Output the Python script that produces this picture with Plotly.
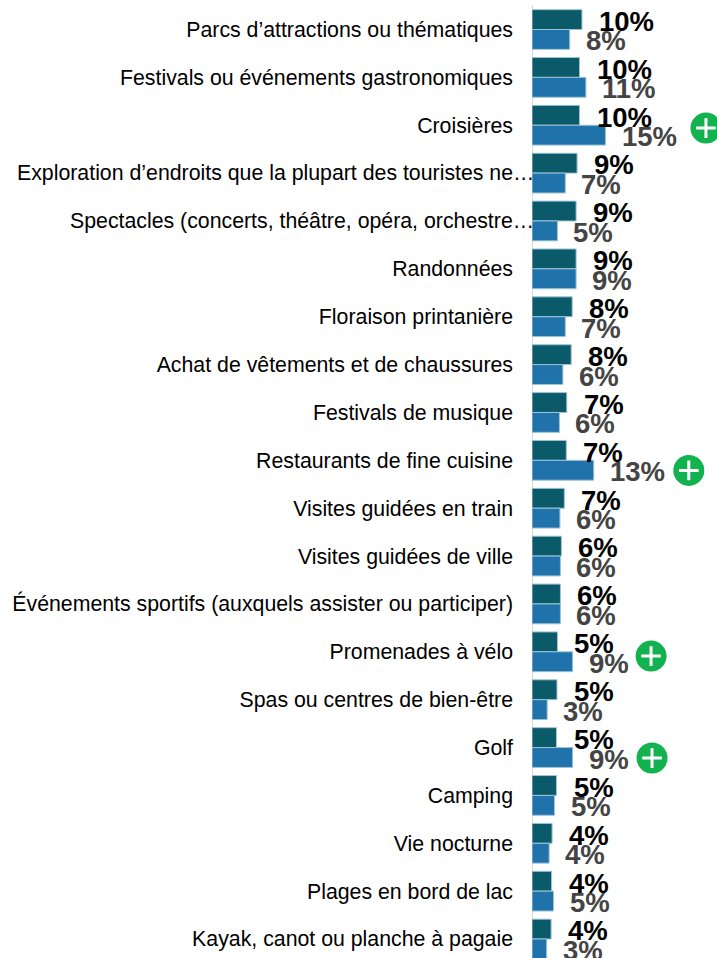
import plotly.graph_objects as go

categories = [
    "Parcs d’attractions ou thématiques",
    "Festivals ou événements gastronomiques",
    "Croisières",
    "Exploration d’endroits que la plupart des touristes ne…",
    "Spectacles (concerts, théâtre, opéra, orchestre…",
    "Randonnées",
    "Floraison printanière",
    "Achat de vêtements et de chaussures",
    "Festivals de musique",
    "Restaurants de fine cuisine",
    "Visites guidées en train",
    "Visites guidées de ville",
    "Événements sportifs (auxquels assister ou participer)",
    "Promenades à vélo",
    "Spas ou centres de bien-être",
    "Golf",
    "Camping",
    "Vie nocturne",
    "Plages en bord de lac",
    "Kayak, canot ou planche à pagaie",
]
series_a = [10.2, 9.7, 9.7, 9.2, 9.0, 9.0, 8.2, 8.0, 7.1, 7.0,
            6.6, 6.0, 5.8, 5.2, 5.1, 5.0, 5.0, 4.1, 4.0, 3.9]
series_b = [7.7, 11.0, 15.0, 6.8, 5.2, 9.0, 6.8, 6.3, 5.6, 12.6,
            5.7, 5.8, 5.8, 8.3, 3.1, 8.3, 4.6, 3.5, 4.4, 3.0]
labels_a = ["10%", "10%", "10%", "9%", "9%", "9%", "8%", "8%", "7%", "7%",
            "7%", "6%", "6%", "5%", "5%", "5%", "5%", "4%", "4%", "4%"]
labels_b = ["8%", "11%", "15%", "7%", "5%", "9%", "7%", "6%", "6%", "13%",
            "6%", "6%", "6%", "9%", "3%", "9%", "5%", "4%", "5%", "3%"]
plus_categories = ["Croisières", "Restaurants de fine cuisine", "Promenades à vélo", "Golf"]
plus_x = [35.5, 32.0, 24.3, 24.5]
plus_offset = [0.06, 0.21, 0.09, 0.22]

PX_PER_UNIT = 4.9
WIDTH, HEIGHT = 717, 958
AXIS_PX = 532
SPACING = 47.87
FIRST_CENTER = 29.5
idx = list(range(len(categories)))
truncated = [c for c in categories if c.endswith("…")]
FONT = "Liberation Sans, Arial"

fig = go.Figure()
border = "#9fc3d6"
fig.add_trace(go.Bar(y=idx, x=series_a, orientation="h", offsetgroup="a", name="a",
                     marker=dict(color="#0b5a69", line=dict(color=border, width=1)),
                     hoverinfo="skip"))
fig.add_trace(go.Bar(y=idx, x=series_b, orientation="h", offsetgroup="b", name="b",
                     marker=dict(color="#2072ab", line=dict(color=border, width=1)),
                     hoverinfo="skip"))

plus_y = [categories.index(c) + o for c, o in zip(plus_categories, plus_offset)]
fig.add_trace(go.Scatter(x=plus_x, y=plus_y, mode="markers", cliponaxis=False,
                         marker=dict(symbol="circle", size=31, color="#12b24f"),
                         hoverinfo="skip"))
fig.add_trace(go.Scatter(x=plus_x, y=plus_y, mode="markers", cliponaxis=False,
                         marker=dict(symbol="cross-thin", size=14, color="white",
                                     line=dict(color="white", width=3)),
                         hoverinfo="skip"))

annotations = []
for c in truncated:
    annotations.append(dict(x=0, y=categories.index(c), text=c, xref="x", yref="y",
                            xanchor="right", yanchor="middle", xshift=3.5, showarrow=False,
                            font=dict(family=FONT, size=21.3, color="#000000")))
for i in idx:
    annotations.append(dict(x=series_a[i], y=i - 0.17, text=labels_a[i], xref="x", yref="y",
                            xanchor="left", yanchor="middle", xshift=15, showarrow=False,
                            font=dict(family=FONT, size=27.5, color="#000000", weight="bold")))
for i in idx:
    annotations.append(dict(x=series_b[i], y=i + 0.24, text=labels_b[i], xref="x", yref="y",
                            xanchor="left", yanchor="middle", xshift=14, showarrow=False,
                            font=dict(family=FONT, size=27.5, color="#444444", weight="bold")))

fig.update_layout(
    width=WIDTH, height=HEIGHT,
    margin=dict(l=AXIS_PX, r=0, t=0, b=0, autoexpand=False),
    paper_bgcolor="white", plot_bgcolor="white",
    showlegend=False, barmode="group", bargap=0.17, bargroupgap=0,
    annotations=annotations,
    xaxis=dict(range=[0, (WIDTH - AXIS_PX) / PX_PER_UNIT], visible=False, fixedrange=True),
    yaxis=dict(
        range=[(HEIGHT - FIRST_CENTER) / SPACING, -FIRST_CENTER / SPACING],
        tickmode="array", tickvals=idx,
        ticktext=["" if c in truncated else c for c in categories],
        ticks="", showgrid=False, zeroline=False, showline=False,
        ticklabelstandoff=18, automargin=False,
        tickfont=dict(family=FONT, size=21.3, color="#000000"),
    ),
    shapes=[dict(type="line", xref="x", yref="paper", x0=0, x1=0, y0=0, y1=1 - 5 / HEIGHT,
                 line=dict(color="#d9d9d9", width=2), layer="below")],
)
fig.write_html("out.html", config=dict(displayModeBar=False),
               post_script="document.documentElement.style.overflow='hidden';document.body.style.margin='0';")
